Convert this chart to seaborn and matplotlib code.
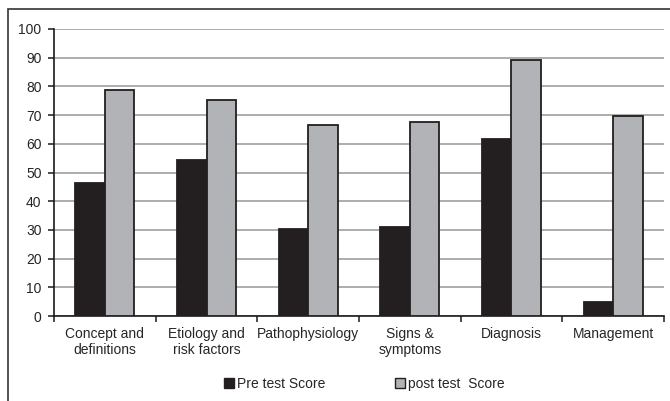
import matplotlib
matplotlib.use("Agg")
import matplotlib.pyplot as plt
from matplotlib.patches import Rectangle, Patch
import seaborn as sns
import pandas as pd
import numpy as np

categories = ["Concept and\ndefinitions", "Etiology and\nrisk factors", "Pathophysiology",
              "Signs &\nsymptoms", "Diagnosis", "Management"]
series_names = ["Pre test Score", "post test  Score"]
pre_scores = [46.3, 54.3, 30.3, 31.0, 61.8, 5.0]
post_scores = [78.6, 75.2, 66.5, 67.6, 89.2, 69.8]
y_ticks = [0, 10, 20, 30, 40, 50, 60, 70, 80, 90, 100]

df = pd.DataFrame({
    "category": categories * 2,
    "series": [series_names[0]] * len(categories) + [series_names[1]] * len(categories),
    "score": pre_scores + post_scores,
})

sns.set_style("white")
plt.rcParams["font.family"] = ["Liberation Sans", "DejaVu Sans"]
plt.rcParams["font.size"] = 10

pre_color = "#231f20"
post_color = "#b1b3b6"
edge = "#231f20"

fig = plt.figure(figsize=(6.7, 4.01), dpi=100)
ax = fig.add_axes([54 / 670, 1 - 316 / 401, (664 - 54) / 670, (316 - 29) / 401])

sns.barplot(data=df, x="category", y="score", hue="series", order=categories,
            hue_order=series_names, palette=[pre_color, post_color], width=0.58,
            edgecolor=edge, linewidth=1.3, saturation=1, legend=False, ax=ax,
            zorder=3)

ax.set_ylim(0, 100)
ax.set_xlim(-0.5, len(categories) - 0.5)
ax.set_yticks(y_ticks)
ax.yaxis.grid(True, color="#a0a0a0", linewidth=1.2, zorder=0)
ax.set_axisbelow(True)
ax.set_xlabel("")
ax.set_ylabel("")

for s in ["top", "right"]:
    ax.spines[s].set_visible(False)
for s in ["left", "bottom"]:
    ax.spines[s].set_color("#1a1a1a")
    ax.spines[s].set_linewidth(1.2)

ax.tick_params(axis="y", which="major", direction="out", length=4, width=1.1,
               color="#1a1a1a", pad=5, labelsize=10, left=True)
ax.tick_params(axis="x", which="major", length=0, pad=8, labelsize=10)
ax.set_xticks(np.arange(-0.5, len(categories), 1.0), minor=True)
ax.tick_params(axis="x", which="minor", direction="out", length=4, width=1.1,
               color="#1a1a1a", bottom=True)

handles = [Patch(facecolor=pre_color, edgecolor=edge, linewidth=1.0),
           Patch(facecolor=post_color, edgecolor=edge, linewidth=1.0)]
fig.legend(handles, series_names, loc="center", bbox_to_anchor=(364 / 670, 1 - 384 / 401),
           ncol=2, frameon=False, fontsize=10, handlelength=0.75, handleheight=0.75,
           handletextpad=0.2, columnspacing=5.0, borderaxespad=0)

# outer frame around the chart area
fig.patches.append(Rectangle((8 / 670, -0.2), 1.2, 1 - 9 / 401 + 0.2,
                             transform=fig.transFigure, fill=False,
                             edgecolor="#333333", linewidth=1.2))

fig.savefig("out.png", dpi=100)
